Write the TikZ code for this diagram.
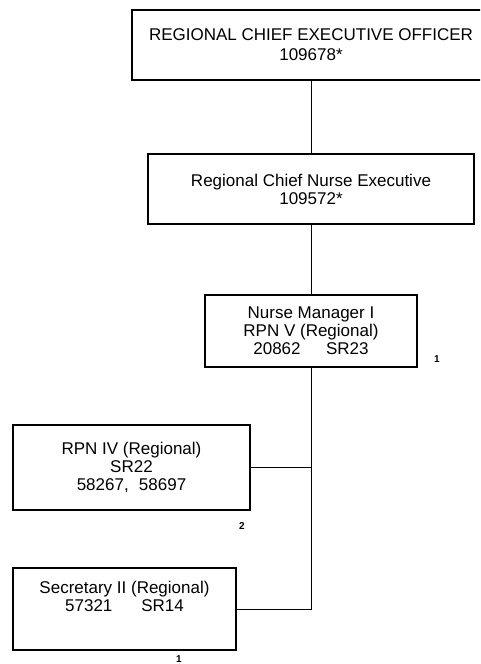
\documentclass[tikz,border=0pt]{standalone}
\usepackage{fontspec}
\setmainfont{Liberation Sans}
\begin{document}
\begin{tikzpicture}[x=1pt,y=-1pt,
  box/.style={draw=black,line width=1.3pt,inner sep=0pt,align=center,
    font=\fontsize{17}{18}\selectfont},
  conn/.style={draw=black,line width=1pt},
  note/.style={font=\fontsize{10}{12}\selectfont\bfseries,inner sep=0pt}]
\useasboundingbox (0,0) rectangle (480,664);
\clip (0,0) rectangle (480,664);
\node[box,minimum width=358pt,minimum height=70pt,
  font=\fontsize{17}{20}\selectfont] (b1) at (311,45)
  {REGIONAL CHIEF EXECUTIVE OFFICER\\109678*};
\node[box,minimum width=326pt,minimum height=70pt] (b2) at (311,189)
  {Regional Chief Nurse Executive\\109572*};
\node[box,minimum width=212pt,minimum height=72pt] (b3) at (311,331)
  {Nurse Manager I\\RPN V (Regional)\\20862\hspace{1.5em}SR23};
\node[box,minimum width=237pt,minimum height=85pt] (b4) at (131.5,467.5)
  {RPN IV (Regional)\\SR22\\58267,\hspace{0.6em}58697};
\node[box,minimum width=223pt,minimum height=82pt] (b5) at (124.5,609) {};
\node[inner sep=0pt,align=center,font=\fontsize{17}{18}\selectfont] (t5)
  at (124.5,596) {Secretary II (Regional)\\57321\hspace{1.7em}SR14};
\coordinate (j) at (b3.south |- b5.east);
\draw[conn] (b1.south) -- (b2.north);
\draw[conn] (b2.south) -- (b3.north);
\draw[conn] (b3.south) -- (j) -- (b5.east);
\draw[conn] (b4.east) -- (b4.east -| b3.south);
\node[note] (n1) at (437,359) {1};
\node[note] (n2) at (242,526) {2};
\node[note] (n3) at (179,659) {1};
\end{tikzpicture}
\end{document}
